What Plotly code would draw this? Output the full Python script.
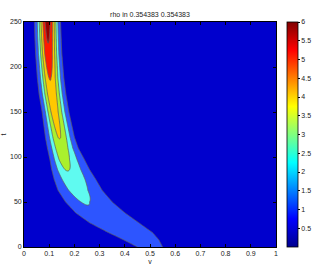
import numpy as np
import plotly.graph_objects as go

# ridge of rho: rows of t
t_rows = [0, 8, 16, 27, 38, 50, 63, 75, 86, 97, 110, 122, 150, 170, 188, 215, 235, 250]
ridge_center = [0.50, 0.46, 0.42, 0.33, 0.28, 0.24, 0.21, 0.19, 0.17, 0.155, 0.147, 0.14, 0.12, 0.11, 0.103, 0.097, 0.095, 0.094]
ridge_peak = [1.35, 1.45, 1.6, 1.75, 1.88, 2.05, 2.35, 2.7, 3.05, 3.35, 3.7, 4.05, 4.45, 4.75, 5.05, 5.8, 6.15, 6.45]
edge_left = [0.45, 0.395, 0.335, 0.26, 0.205, 0.165, 0.135, 0.12, 0.11, 0.103, 0.093, 0.085, 0.072, 0.06, 0.053, 0.046, 0.043, 0.042]
edge_right = [0.55, 0.535, 0.51, 0.455, 0.40, 0.35, 0.31, 0.285, 0.26, 0.24, 0.215, 0.20, 0.178, 0.166, 0.158, 0.15, 0.147, 0.145]

levels_start, levels_end, levels_step = 1, 6, 1
band_colors = ["rgb(0,0,205)", "rgb(45,85,255)", "rgb(95,250,240)", "rgb(170,240,45)",
               "rgb(255,200,0)", "rgb(255,25,0)", "rgb(150,0,0)"]
jet = [[0, "rgb(0,0,143)"], [0.125, "rgb(0,0,255)"], [0.375, "rgb(0,255,255)"],
       [0.625, "rgb(255,255,0)"], [0.875, "rgb(255,0,0)"], [1, "rgb(128,0,0)"]]
cbar_ticks = [0.5, 1, 1.5, 2, 2.5, 3, 3.5, 4, 4.5, 5, 5.5, 6]
x_ticks = [0, 0.1, 0.2, 0.3, 0.4, 0.5, 0.6, 0.7, 0.8, 0.9, 1]
y_ticks = [0, 50, 100, 150, 200, 250]

v = np.linspace(0, 1, 501)
t_fine = np.linspace(0, 250, 251)
c = np.interp(t_fine, t_rows, ridge_center)
p = np.interp(t_fine, t_rows, ridge_peak)
el = np.interp(t_fine, t_rows, edge_left)
er = np.interp(t_fine, t_rows, edge_right)
s = np.sqrt(np.log(p))
wl = (c - el) / s
wr = (er - c) / s
V = v[None, :]
w = np.where(V < c[:, None], wl[:, None], wr[:, None])
Z = p[:, None] * np.exp(-((V - c[:, None]) / w) ** 2)

n = len(band_colors) - 1
cscale = [[i / n, col] for i, col in enumerate(band_colors)]

fig = go.Figure()
fig.add_trace(go.Contour(
    x=v, y=t_fine, z=Z, colorscale=cscale, showscale=False,
    contours=dict(start=levels_start, end=levels_end, size=levels_step, coloring="fill"),
    line=dict(color="rgb(95,95,95)", width=0.8), hoverinfo="skip"))
fig.add_trace(go.Scatter(
    x=[-5, -5], y=[-5, -5], mode="markers", showlegend=False, hoverinfo="skip",
    marker=dict(color=[0, 6], cmin=0, cmax=6, colorscale=jet, showscale=True,
                colorbar=dict(x=1.044, xanchor="left", y=0, yanchor="bottom", len=1,
                              lenmode="fraction", thickness=11, outlinewidth=0.8,
                              outlinecolor="black", tickvals=cbar_ticks,
                              ticktext=[f"{t:g}" for t in cbar_ticks],
                              ticks="outside", ticklen=2, tickcolor="black",
                              tickfont=dict(size=7, color="#222"), xpad=0, ypad=0))))

axis_common = dict(showgrid=False, zeroline=False, ticks="inside", ticklen=3,
                   tickcolor="black", mirror="ticks", showline=True, linecolor="black",
                   linewidth=0.8, tickfont=dict(size=7, color="#222"), automargin=False)
fig.update_layout(
    width=312, height=266, margin=dict(l=24, r=36, t=22, b=19, autoexpand=False),
    paper_bgcolor="white", plot_bgcolor="white",
    font=dict(family="Liberation Sans, Arial, sans-serif", size=7, color="#222"),
    title=dict(text="rho in 0.354383 0.354383", x=(24 + 126) / 312, xanchor="center",
               y=1 - 15 / 266, yanchor="middle", font=dict(size=7, color="#222")),
    xaxis=dict(range=[0, 1], tickvals=x_ticks, ticktext=[f"{t:g}" for t in x_ticks],
               title=dict(text="v", standoff=2, font=dict(size=7)), **axis_common),
    yaxis=dict(range=[0, 250], tickvals=y_ticks,
               title=dict(text="t", standoff=6, font=dict(size=7)), **axis_common),
    showlegend=False,
)
fig.write_html("out.html", config={"displayModeBar": False},
               post_script="document.body.style.margin='0';")
